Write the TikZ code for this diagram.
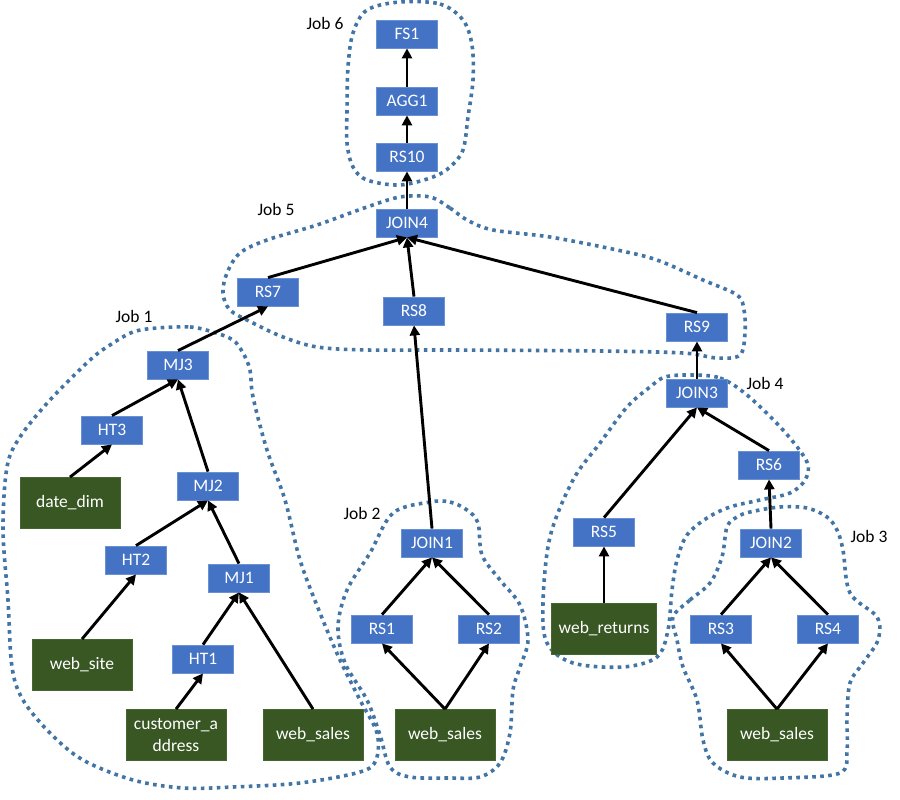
\documentclass[tikz,border=0pt]{standalone}
\usepackage{fontspec}
\setmainfont{Carlito}
\usetikzlibrary{arrows.meta}
\definecolor{nodeblue}{RGB}{68,114,196}
\definecolor{nodeedge}{RGB}{105,145,212}
\definecolor{nodegreen}{RGB}{56,87,35}
\definecolor{greenedge}{RGB}{70,102,48}
\definecolor{jobcol}{RGB}{66,117,164}
\newcommand{\fs}{\fontsize{17.5}{21.5}\selectfont}
\begin{document}
\begin{tikzpicture}[x=1pt,y=-1pt,
  op/.style={rectangle, fill=nodeblue, draw=nodeedge, line width=0.8pt, minimum width=61pt, minimum height=28pt, inner sep=0pt, text=white, font=\fs},
  tbl/.style={rectangle, fill=nodegreen, draw=greenedge, line width=0.8pt, minimum width=100pt, minimum height=51pt, inner sep=0pt, text=white, align=center, font=\fs},
  jobline/.style={draw=jobcol, line width=3.6pt, dash pattern=on 3.6pt off 4.4pt},
  arr/.style={-{Triangle[length=10pt,width=10pt]}, line width=2.9pt, black},
  joblabel/.style={font=\fs, text=black, inner sep=0pt}]
\fill[white] (0,0) rectangle (900,800);
\useasboundingbox (0,0) rectangle (900,800);

% job outlines
\draw[jobline] plot[smooth cycle, tension=0.55] coordinates {(400,2) (440,4) (463,20) (472,45) (473,80) (468,117) (463,150) (450,167) (433,177) (400,185) (367,180) (353,167) (347,143) (347,110) (348,67) (353,33) (367,10)};
\draw[jobline] plot[smooth cycle, tension=0.55] coordinates {(430,197) (450,208) (467,220) (493,230) (550,237) (617,250) (657,260) (703,280) (737,295) (744,310) (745,333) (740,355) (717,358) (683,353) (600,351) (450,350) (367,350) (317,347) (283,337) (253,323) (230,310) (223,293) (227,273) (240,253) (267,240) (317,225) (367,207) (400,197)};
\draw[jobline] plot[smooth cycle, tension=0.55] coordinates {(157,328) (190,327) (213,332) (233,340) (243,353) (250,370) (253,397) (267,450) (285,500) (300,560) (320,613) (340,660) (360,700) (377,733) (376,760) (360,772) (300,783) (233,787) (183,788) (133,780) (83,760) (50,733) (23,700) (12,667) (8,600) (3,530) (7,467) (20,437) (50,400) (90,360) (110,345) (133,332)};
\draw[jobline] plot[smooth cycle, tension=0.55] coordinates {(430,502) (450,502) (467,510) (478,523) (482,555) (500,580) (520,605) (528,640) (520,667) (513,690) (510,733) (500,763) (480,777) (450,778) (410,777) (390,767) (380,735) (367,700) (345,663) (338,627) (347,590) (370,553) (393,513)};
\draw[jobline] plot[smooth cycle, tension=0.55] coordinates {(690,375) (720,378) (747,395) (783,430) (807,462) (805,480) (790,493) (760,500) (730,507) (707,518) (687,535) (677,560) (672,590) (668,630) (657,657) (623,667) (573,663) (547,643) (543,603) (550,537) (573,480) (600,443) (627,407) (650,387) (665,377)};
\draw[jobline] plot[smooth cycle, tension=0.55] coordinates {(673,617) (690,600) (710,583) (722,557) (727,527) (737,517) (750,512) (780,507) (807,508) (827,517) (837,530) (843,550) (850,593) (877,617) (878,640) (863,663) (850,683) (847,717) (847,750) (840,773) (783,778) (740,777) (713,763) (703,740) (697,700) (683,667) (677,640)};

% job labels
\node[joblabel] (j6) at (325,23) {Job 6};
\node[joblabel] (j5) at (276,209) {Job 5};
\node[joblabel] (j1) at (134,316) {Job 1};
\node[joblabel] (j2) at (362,513) {Job 2};
\node[joblabel] (j4) at (765,383) {Job 4};
\node[joblabel] (j3) at (869,536) {Job 3};

% operator nodes
\node[op] (FS1) at (407,34) {FS1};
\node[op] (AGG1) at (407,101) {AGG1};
\node[op] (RS10) at (407,157) {RS10};
\node[op] (JOIN4) at (407,223) {JOIN4};
\node[op] (RS7) at (268,292) {RS7};
\node[op] (RS8) at (414,311) {RS8};
\node[op] (RS9) at (697,327) {RS9};
\node[op] (MJ3) at (178,365) {MJ3};
\node[op] (JOIN3) at (697,393) {JOIN3};
\node[op] (HT3) at (112,430) {HT3};
\node[op] (RS6) at (769,465) {RS6};
\node[op] (MJ2) at (208,486) {MJ2};
\node[op] (JOIN1) at (432,543) {JOIN1};
\node[op] (RS5) at (604,532) {RS5};
\node[op] (JOIN2) at (771,543) {JOIN2};
\node[op] (HT2) at (136,560) {HT2};
\node[op] (MJ1) at (239,578) {MJ1};
\node[op] (RS1) at (382,629) {RS1};
\node[op] (RS2) at (489,629) {RS2};
\node[op] (RS3) at (721,629) {RS3};
\node[op] (RS4) at (828,629) {RS4};
\node[op] (HT1) at (203,659) {HT1};

% table nodes
\node[tbl] (datedim) at (70,503) {date\_dim};
\node[tbl] (website) at (82,665) {web\_site};
\node[tbl, minimum width=105pt] (webreturns) at (604,629) {web\_returns};
\node[tbl] (custaddr) at (176,735) {customer\_a\\ddress};
\node[tbl] (ws1) at (313,735) {web\_sales};
\node[tbl] (ws2) at (445,735) {web\_sales};
\node[tbl] (ws3) at (777,735) {web\_sales};

% edges
\draw[arr] (AGG1.north) -- (FS1.south);
\draw[arr] (RS10.north) -- (AGG1.south);
\draw[arr] (JOIN4.north) -- (RS10.south);
\draw[arr] (RS7.north) -- (JOIN4.south);
\draw[arr] (RS8.north) -- (JOIN4.south);
\draw[arr] (RS9.north) -- (JOIN4.south);
\draw[arr] (MJ3.north) -- (RS7.south);
\draw[arr] (JOIN1.north) -- (RS8.south);
\draw[arr] (JOIN3.north) -- (RS9.south);
\draw[arr] (HT3.north) -- (MJ3.south);
\draw[arr] (MJ2.north) -- (MJ3.south);
\draw[arr] (datedim.north) -- (HT3.south);
\draw[arr] (HT2.north) -- (MJ2.south);
\draw[arr] (MJ1.north) -- (MJ2.south);
\draw[arr] (website.north) -- (HT2.south);
\draw[arr] (HT1.north) -- (MJ1.south);
\draw[arr] (ws1.north) -- (MJ1.south);
\draw[arr] (custaddr.north) -- (HT1.south);
\draw[arr] (RS1.north) -- (JOIN1.south);
\draw[arr] (RS2.north) -- (JOIN1.south);
\draw[arr] (ws2.north) -- (RS1.south);
\draw[arr] (ws2.north) -- (RS2.south);
\draw[arr] (webreturns.north) -- (RS5.south);
\draw[arr] (RS5.north) -- (JOIN3.south);
\draw[arr] (RS6.north) -- (JOIN3.south);
\draw[arr] (JOIN2.north) -- (RS6.south);
\draw[arr] (RS3.north) -- (JOIN2.south);
\draw[arr] (RS4.north) -- (JOIN2.south);
\draw[arr] (ws3.north) -- (RS3.south);
\draw[arr] (ws3.north) -- (RS4.south);
\end{tikzpicture}
\end{document}
